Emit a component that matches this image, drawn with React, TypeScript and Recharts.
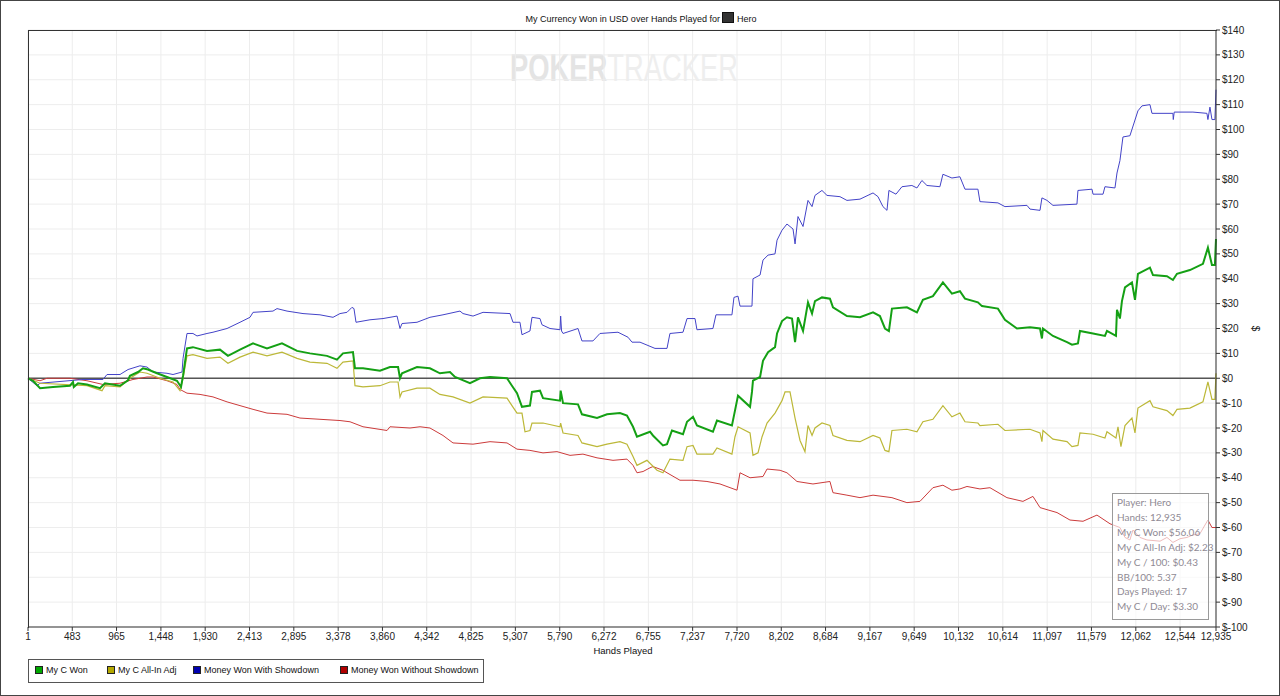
import { CartesianGrid, Line, LineChart, ReferenceLine, XAxis, YAxis } from "recharts";

// hands played -> dollars
const myCWon: [number, number][] = [
	[1, 0], [55, -1], [132, -4], [273, -3.5], [458, -3], [491, -1.5], [500, -3.5], [545, -2], [643, -2.5],
	[785, -4], [839, -2], [1003, -3], [1090, -0.8], [1111, 1], [1199, 2.5], [1253, 4], [1307, 3.5], [1405, 2],
	[1514, 0.5], [1623, -1], [1667, -3.5], [1689, 1], [1732, 12], [1797, 12.5], [1950, 11], [2091, 11.5],
	[2178, 9], [2309, 11.5], [2451, 14], [2603, 12], [2766, 14], [2930, 11], [3071, 10], [3256, 9], [3365, 7.5],
	[3430, 10], [3539, 10.5], [3561, 4], [3648, 4], [3833, 3], [3942, 4.5], [4030, 4.5], [4051, 0], [4073, 2],
	[4236, 4.5], [4377, 4], [4486, 2], [4595, 2.5], [4650, 0.5], [4813, -2], [4922, 0], [5031, 0.5], [5216, 0],
	[5270, -3], [5325, -6], [5379, -11.5], [5466, -11], [5488, -5.5], [5575, -5], [5608, -8], [5793, -9],
	[5800, -5], [5826, -10], [5989, -10.5], [6032, -14.5], [6196, -16], [6305, -14.5], [6446, -14], [6522, -15],
	[6588, -19.5], [6631, -23.5], [6773, -21.5], [6805, -23], [6914, -27], [6958, -26.5], [7012, -21],
	[7132, -22.5], [7176, -17.5], [7241, -15.5], [7284, -19], [7458, -21.5], [7502, -17], [7665, -19],
	[7698, -13], [7731, -7], [7862, -11.5], [7883, -5.5], [7894, -1], [7971, 0.5], [8003, 7], [8058, 10.5],
	[8134, 12.5], [8156, 18], [8210, 23], [8264, 24.5], [8319, 24], [8352, 14.5], [8384, 24.5], [8439, 19],
	[8493, 30.5], [8537, 26], [8569, 31], [8645, 32.5], [8732, 32], [8765, 28.5], [8917, 25], [9059, 24.5],
	[9201, 26.5], [9276, 25], [9331, 20], [9374, 19], [9407, 28], [9570, 28.5], [9679, 26.5], [9744, 31.5],
	[9853, 33], [9962, 38.5], [10060, 34], [10147, 35], [10202, 32], [10343, 30.5], [10387, 29], [10561, 28],
	[10637, 23.5], [10768, 20], [10910, 20.5], [11019, 20], [11040, 16], [11051, 20], [11160, 17], [11313, 14.5],
	[11367, 13.5], [11432, 14], [11454, 19], [11596, 18], [11726, 17], [11748, 19], [11846, 17], [11857, 27.5],
	[11889, 24], [11911, 31], [11944, 36.5], [12020, 38.5], [12053, 31.5], [12085, 42], [12216, 44.5],
	[12249, 41.5], [12401, 41], [12466, 39.5], [12510, 42], [12651, 43.5], [12793, 46], [12847, 52.5],
	[12891, 45.5], [12923, 45.5], [12935, 56],
];

const myCAllInAdj: [number, number][] = [
	[1, 0], [132, -2], [643, -3], [807, -5], [839, -3], [1003, -3.5], [1111, 0], [1220, 2.5], [1297, 2],
	[1438, 0], [1580, -1.5], [1656, -5], [1689, 0], [1732, 9], [1797, 9.5], [1950, 8], [2091, 8.5], [2178, 6],
	[2309, 8.5], [2451, 10.5], [2603, 9], [2766, 10.5], [2930, 8], [3071, 6.5], [3256, 6], [3365, 4], [3430, 6.5],
	[3539, 7], [3561, -3], [3648, -3.5], [3833, -3], [3942, -1.5], [4030, -1.5], [4051, -7.5], [4073, -5.5],
	[4236, -4], [4377, -4], [4486, -6.5], [4628, -7.5], [4813, -10], [4955, -7.5], [5216, -8], [5270, -11],
	[5325, -14], [5379, -14], [5412, -21.5], [5466, -21], [5488, -18], [5608, -18], [5793, -19.5], [5800, -18],
	[5826, -22], [5989, -23], [6032, -26], [6196, -27.5], [6305, -26.5], [6446, -25.5], [6522, -26.5],
	[6588, -31.5], [6631, -35], [6740, -33], [6849, -37], [6914, -38], [6990, -32.5], [7132, -33], [7176, -27.5],
	[7241, -27], [7284, -30.5], [7458, -30.5], [7502, -28], [7665, -30.5], [7698, -23.5], [7731, -19.5],
	[7862, -22], [7894, -31], [7949, -30], [7993, -23.5], [8047, -18], [8134, -14], [8210, -9], [8243, -5.5],
	[8297, -5.5], [8352, -16], [8406, -25], [8460, -29.5], [8493, -19], [8537, -23], [8569, -20], [8645, -18],
	[8732, -19], [8765, -23], [8917, -25], [9059, -25.5], [9201, -23], [9276, -24], [9331, -29], [9374, -29.5],
	[9407, -21], [9570, -20.5], [9679, -21.5], [9744, -17.5], [9853, -16.5], [9962, -11], [10060, -15.5],
	[10147, -14], [10202, -17.5], [10343, -18], [10365, -19], [10561, -18.5], [10637, -21], [10910, -20.5],
	[11019, -22], [11040, -25.5], [11051, -21], [11160, -24.5], [11313, -25.5], [11367, -27.5], [11432, -27],
	[11454, -22], [11596, -22.5], [11726, -24], [11748, -21.5], [11846, -24], [11868, -19.5], [11900, -27.5],
	[11944, -19], [12020, -16], [12053, -22], [12085, -12], [12216, -9], [12249, -11.5], [12401, -13],
	[12466, -15], [12510, -12.5], [12651, -12], [12793, -9.5], [12847, -1.5], [12891, -8.5], [12923, -8.5],
	[12935, 2],
];

const wonWithShowdown: [number, number][] = [
	[1, 0], [99, -3], [132, -2], [600, -0.5], [817, -0.5], [861, 1.5], [1003, 1.5], [1024, 2], [1090, 3.5],
	[1220, 5], [1297, 4.5], [1362, 2.5], [1514, 2], [1580, 1.5], [1678, 2.5], [1689, 8], [1732, 18], [1797, 18],
	[1841, 17], [1950, 18], [2015, 18.5], [2168, 20], [2309, 22.5], [2418, 24.5], [2451, 26.5], [2668, 27],
	[2712, 28], [2821, 27], [2995, 26], [3180, 25.5], [3322, 24.5], [3398, 26], [3474, 26.5], [3528, 28.5],
	[3550, 28], [3572, 22.5], [3724, 23.5], [3866, 24], [4019, 25], [4051, 20], [4073, 22], [4236, 22.5],
	[4377, 24.5], [4519, 25.5], [4704, 27], [4737, 26], [4846, 25], [4955, 26.5], [5249, 26], [5281, 22.5],
	[5357, 22.5], [5379, 17.5], [5466, 19], [5488, 24.5], [5575, 24], [5597, 21.5], [5684, 20], [5793, 19.5],
	[5800, 25], [5810, 19], [5826, 18], [5989, 20], [6032, 15], [6152, 15], [6228, 18], [6424, 18.5],
	[6533, 16.5], [6577, 14.5], [6664, 14.5], [6827, 12], [6958, 12], [6990, 18], [7132, 18.5], [7176, 24],
	[7263, 24], [7284, 19.5], [7458, 20], [7491, 25.5], [7665, 25.5], [7687, 32.5], [7731, 33], [7753, 29],
	[7883, 29], [7894, 40], [7971, 41.5], [8003, 47.5], [8058, 49.5], [8134, 50], [8156, 55.5], [8210, 59.5],
	[8264, 62], [8330, 60], [8352, 54], [8384, 65], [8439, 61], [8493, 71.5], [8537, 69], [8569, 73.5],
	[8645, 75.5], [8700, 73.5], [8841, 73], [8917, 71.5], [9059, 72], [9201, 74.5], [9255, 73], [9309, 69],
	[9353, 67.5], [9374, 75.5], [9451, 74], [9516, 77], [9624, 77.5], [9679, 76.5], [9733, 79.5], [9788, 77.5],
	[9929, 77], [9962, 82], [10060, 80.5], [10147, 81], [10202, 76], [10343, 76], [10365, 71], [10561, 70.5],
	[10637, 69], [10877, 69.5], [10910, 68], [11019, 67.5], [11040, 72.5], [11095, 71.5], [11160, 69.5],
	[11421, 70], [11432, 75.5], [11585, 76], [11596, 74], [11705, 74], [11726, 77], [11835, 76.5], [11857, 82.5],
	[11889, 87.5], [11922, 97], [11998, 97.5], [12085, 107.5], [12129, 109.5], [12216, 110], [12238, 106.5],
	[12466, 106.5], [12470, 104], [12480, 107], [12684, 107], [12836, 106.5], [12847, 104], [12869, 109],
	[12891, 104], [12923, 104], [12935, 116],
];

const wonWithoutShowdown: [number, number][] = [
	[1, 0], [132, -1], [208, 0], [458, 0], [643, -1], [817, -2.5], [1003, -2], [1144, -0.5], [1297, 0.5],
	[1362, 0.5], [1514, -1], [1623, -2.5], [1656, -4.5], [1732, -6], [1874, -6.5], [2015, -7.5], [2168, -9.5],
	[2309, -11], [2451, -12.5], [2603, -14], [2821, -14.5], [2962, -16], [3180, -16.5], [3398, -17],
	[3507, -17.5], [3648, -19.5], [3910, -21], [3942, -19.5], [4160, -20], [4269, -19.5], [4377, -20],
	[4519, -23], [4628, -26], [4846, -26.5], [5031, -25.5], [5216, -26], [5325, -28.5], [5466, -29], [5608, -30],
	[5760, -29.5], [5902, -31], [6043, -30.5], [6196, -32], [6370, -33], [6522, -32.5], [6588, -35], [6631, -38],
	[6697, -37.5], [6773, -36], [6805, -35.5], [6914, -37], [6958, -38], [7099, -41], [7241, -41], [7393, -41.5],
	[7535, -42.5], [7720, -45], [7753, -38], [7862, -40], [8003, -39.5], [8047, -36.5], [8189, -37], [8264, -38],
	[8373, -41.5], [8547, -42.5], [8732, -41.5], [8765, -46], [8917, -47], [9059, -48], [9201, -47], [9407, -48],
	[9570, -50], [9712, -49.5], [9853, -44], [9962, -43], [10060, -45], [10147, -44.5], [10224, -43.5],
	[10365, -44.5], [10474, -44], [10659, -48], [10833, -49.5], [10942, -47.5], [11019, -52], [11204, -54],
	[11345, -57], [11487, -57.5], [11639, -55], [11781, -58.5], [11889, -60], [11944, -64], [11998, -65],
	[12031, -61], [12107, -64], [12183, -65], [12325, -65.5], [12401, -64], [12466, -66], [12543, -64.5],
	[12619, -64], [12684, -63], [12760, -62.5], [12815, -59], [12847, -57], [12891, -60], [12935, -60],
];

const handTicks = [
	1, 483, 965, 1448, 1930, 2413, 2895, 3378, 3860, 4342, 4825, 5307, 5790, 6272, 6755, 7237, 7720, 8202,
	8684, 9167, 9649, 10132, 10614, 11097, 11579, 12062, 12544, 12935,
];
const dollarTicks = [
	-100, -90, -80, -70, -60, -50, -40, -30, -20, -10, 0, 10, 20, 30, 40, 50, 60, 70, 80, 90, 100, 110, 120, 130, 140,
];

const legendItems = [
	{ name: "My C Won", color: "#00a800", left: 34 },
	{ name: "My C All-In Adj", color: "#b4a800", left: 106 },
	{ name: "Money Won With Showdown", color: "#0000b0", left: 192 },
	{ name: "Money Won Without Showdown", color: "#b00000", left: 339 },
];

const statLines = [
	"Player: Hero",
	"Hands: 12,935",
	"My C Won: $56.06",
	"My C All-In Adj: $2.23",
	"My C / 100: $0.43",
	"BB/100: 5.37",
	"Days Played: 17",
	"My C / Day: $3.30",
];

const toPoints = (pairs: [number, number][]) => pairs.map(([h, v]) => ({ h, v }));

const FONT = '"Liberation Sans", Arial, sans-serif';

export default function App() {
	return (
		<div
			style={{
				position: "absolute",
				left: 0,
				top: 0,
				width: 1280,
				height: 696,
				border: "1px solid #444",
				boxSizing: "border-box",
				background: "#fff",
				overflow: "hidden",
				fontFamily: FONT,
			}}
		>
			{/* watermark */}
			<div
				style={{
					position: "absolute",
					left: 509,
					top: 48,
					fontSize: 38,
					lineHeight: "38px",
					fontWeight: "bold",
					color: "#e4e4e4",
					transform: "scaleX(0.72)",
					transformOrigin: "0 0",
					whiteSpace: "nowrap",
				}}
			>
				POKER<span style={{ fontWeight: "normal", color: "#eeeeee" }}>TRACKER</span>
			</div>

			<div
				style={{
					position: "absolute",
					left: 0,
					width: 1280,
					top: 11,
					textAlign: "center",
					fontSize: 9,
					color: "#111",
				}}
			>
				My Currency Won in USD over Hands Played for{" "}
				<span
					style={{
						display: "inline-block",
						width: 10,
						height: 9,
						background: "#333",
						border: "1px solid #111",
						verticalAlign: "-1px",
					}}
				/>{" "}
				Hero
			</div>

			<div style={{ position: "absolute", left: -1, top: -1 }}>
				<LineChart width={1280} height={696} margin={{ top: 30, right: 14, bottom: 39, left: 28 }}>
					<CartesianGrid stroke="#ededed" />
					<XAxis
						dataKey="h"
						type="number"
						domain={[1, 12935]}
						ticks={handTicks}
						interval={0}
						height={30}
						tickSize={4}
						tickMargin={2}
						stroke="#333"
						tick={{ fontSize: 10, fill: "#222" }}
						tickFormatter={(v: number) => v.toLocaleString("en-US")}
					/>
					<YAxis
						orientation="right"
						type="number"
						domain={[-100, 140]}
						ticks={dollarTicks}
						interval={0}
						width={50}
						tickSize={4}
						tickMargin={2}
						stroke="#333"
						tick={{ fontSize: 10, fill: "#222" }}
						tickFormatter={(v: number) => `$${v}`}
					/>
					<ReferenceLine y={0} stroke="#555" strokeWidth={1.5} />
					<Line data={toPoints(wonWithoutShowdown)} dataKey="v" type="linear" stroke="#cc3b3b" strokeWidth={1} dot={false} isAnimationActive={false} />
					<Line data={toPoints(wonWithShowdown)} dataKey="v" type="linear" stroke="#4343c8" strokeWidth={1} dot={false} isAnimationActive={false} />
					<Line data={toPoints(myCAllInAdj)} dataKey="v" type="linear" stroke="#bcb838" strokeWidth={1.2} dot={false} isAnimationActive={false} />
					<Line data={toPoints(myCWon)} dataKey="v" type="linear" stroke="#14a014" strokeWidth={2} dot={false} isAnimationActive={false} />
				</LineChart>
			</div>

			{/* plot frame top / left */}
			<div
				style={{
					position: "absolute",
					left: 27,
					top: 29,
					width: 1188,
					height: 597,
					borderTop: "1px solid #333",
					borderLeft: "1px solid #333",
					pointerEvents: "none",
				}}
			/>

			<div
				style={{
					position: "absolute",
					left: 1252,
					top: 322,
					fontSize: 10,
					color: "#222",
					transform: "rotate(90deg)",
				}}
			>
				$
			</div>

			<div
				style={{
					position: "absolute",
					left: 0,
					width: 1244,
					top: 644,
					textAlign: "center",
					fontSize: 9.5,
					color: "#111",
				}}
			>
				Hands Played
			</div>

			{/* legend */}
			<div
				style={{
					position: "absolute",
					left: 27,
					top: 658,
					width: 456,
					height: 24,
					border: "1px solid #555",
					boxSizing: "border-box",
				}}
			/>
			{legendItems.map((it) => (
				<div
					key={it.name}
					style={{
						position: "absolute",
						left: it.left,
						top: 664,
						fontSize: 9,
						color: "#111",
						display: "flex",
						alignItems: "center",
						whiteSpace: "nowrap",
					}}
				>
					<span
						style={{
							display: "inline-block",
							width: 6,
							height: 6,
							background: it.color,
							border: "1px solid #222",
							marginRight: 3,
						}}
					/>
					{it.name}
				</div>
			))}

			{/* stats box */}
			<div
				style={{
					position: "absolute",
					left: 1111,
					top: 492,
					width: 97,
					height: 127,
					border: "1px solid #9a9a9a",
					boxSizing: "border-box",
					background: "rgba(255,255,255,0.65)",
					padding: "1px 0 0 4px",
					fontFamily: "Lato, sans-serif",
					fontSize: 10,
					lineHeight: "14.9px",
					color: "#8f8a94",
					whiteSpace: "nowrap",
				}}
			>
				{statLines.map((s) => (
					<div key={s}>{s}</div>
				))}
			</div>
		</div>
	);
}
